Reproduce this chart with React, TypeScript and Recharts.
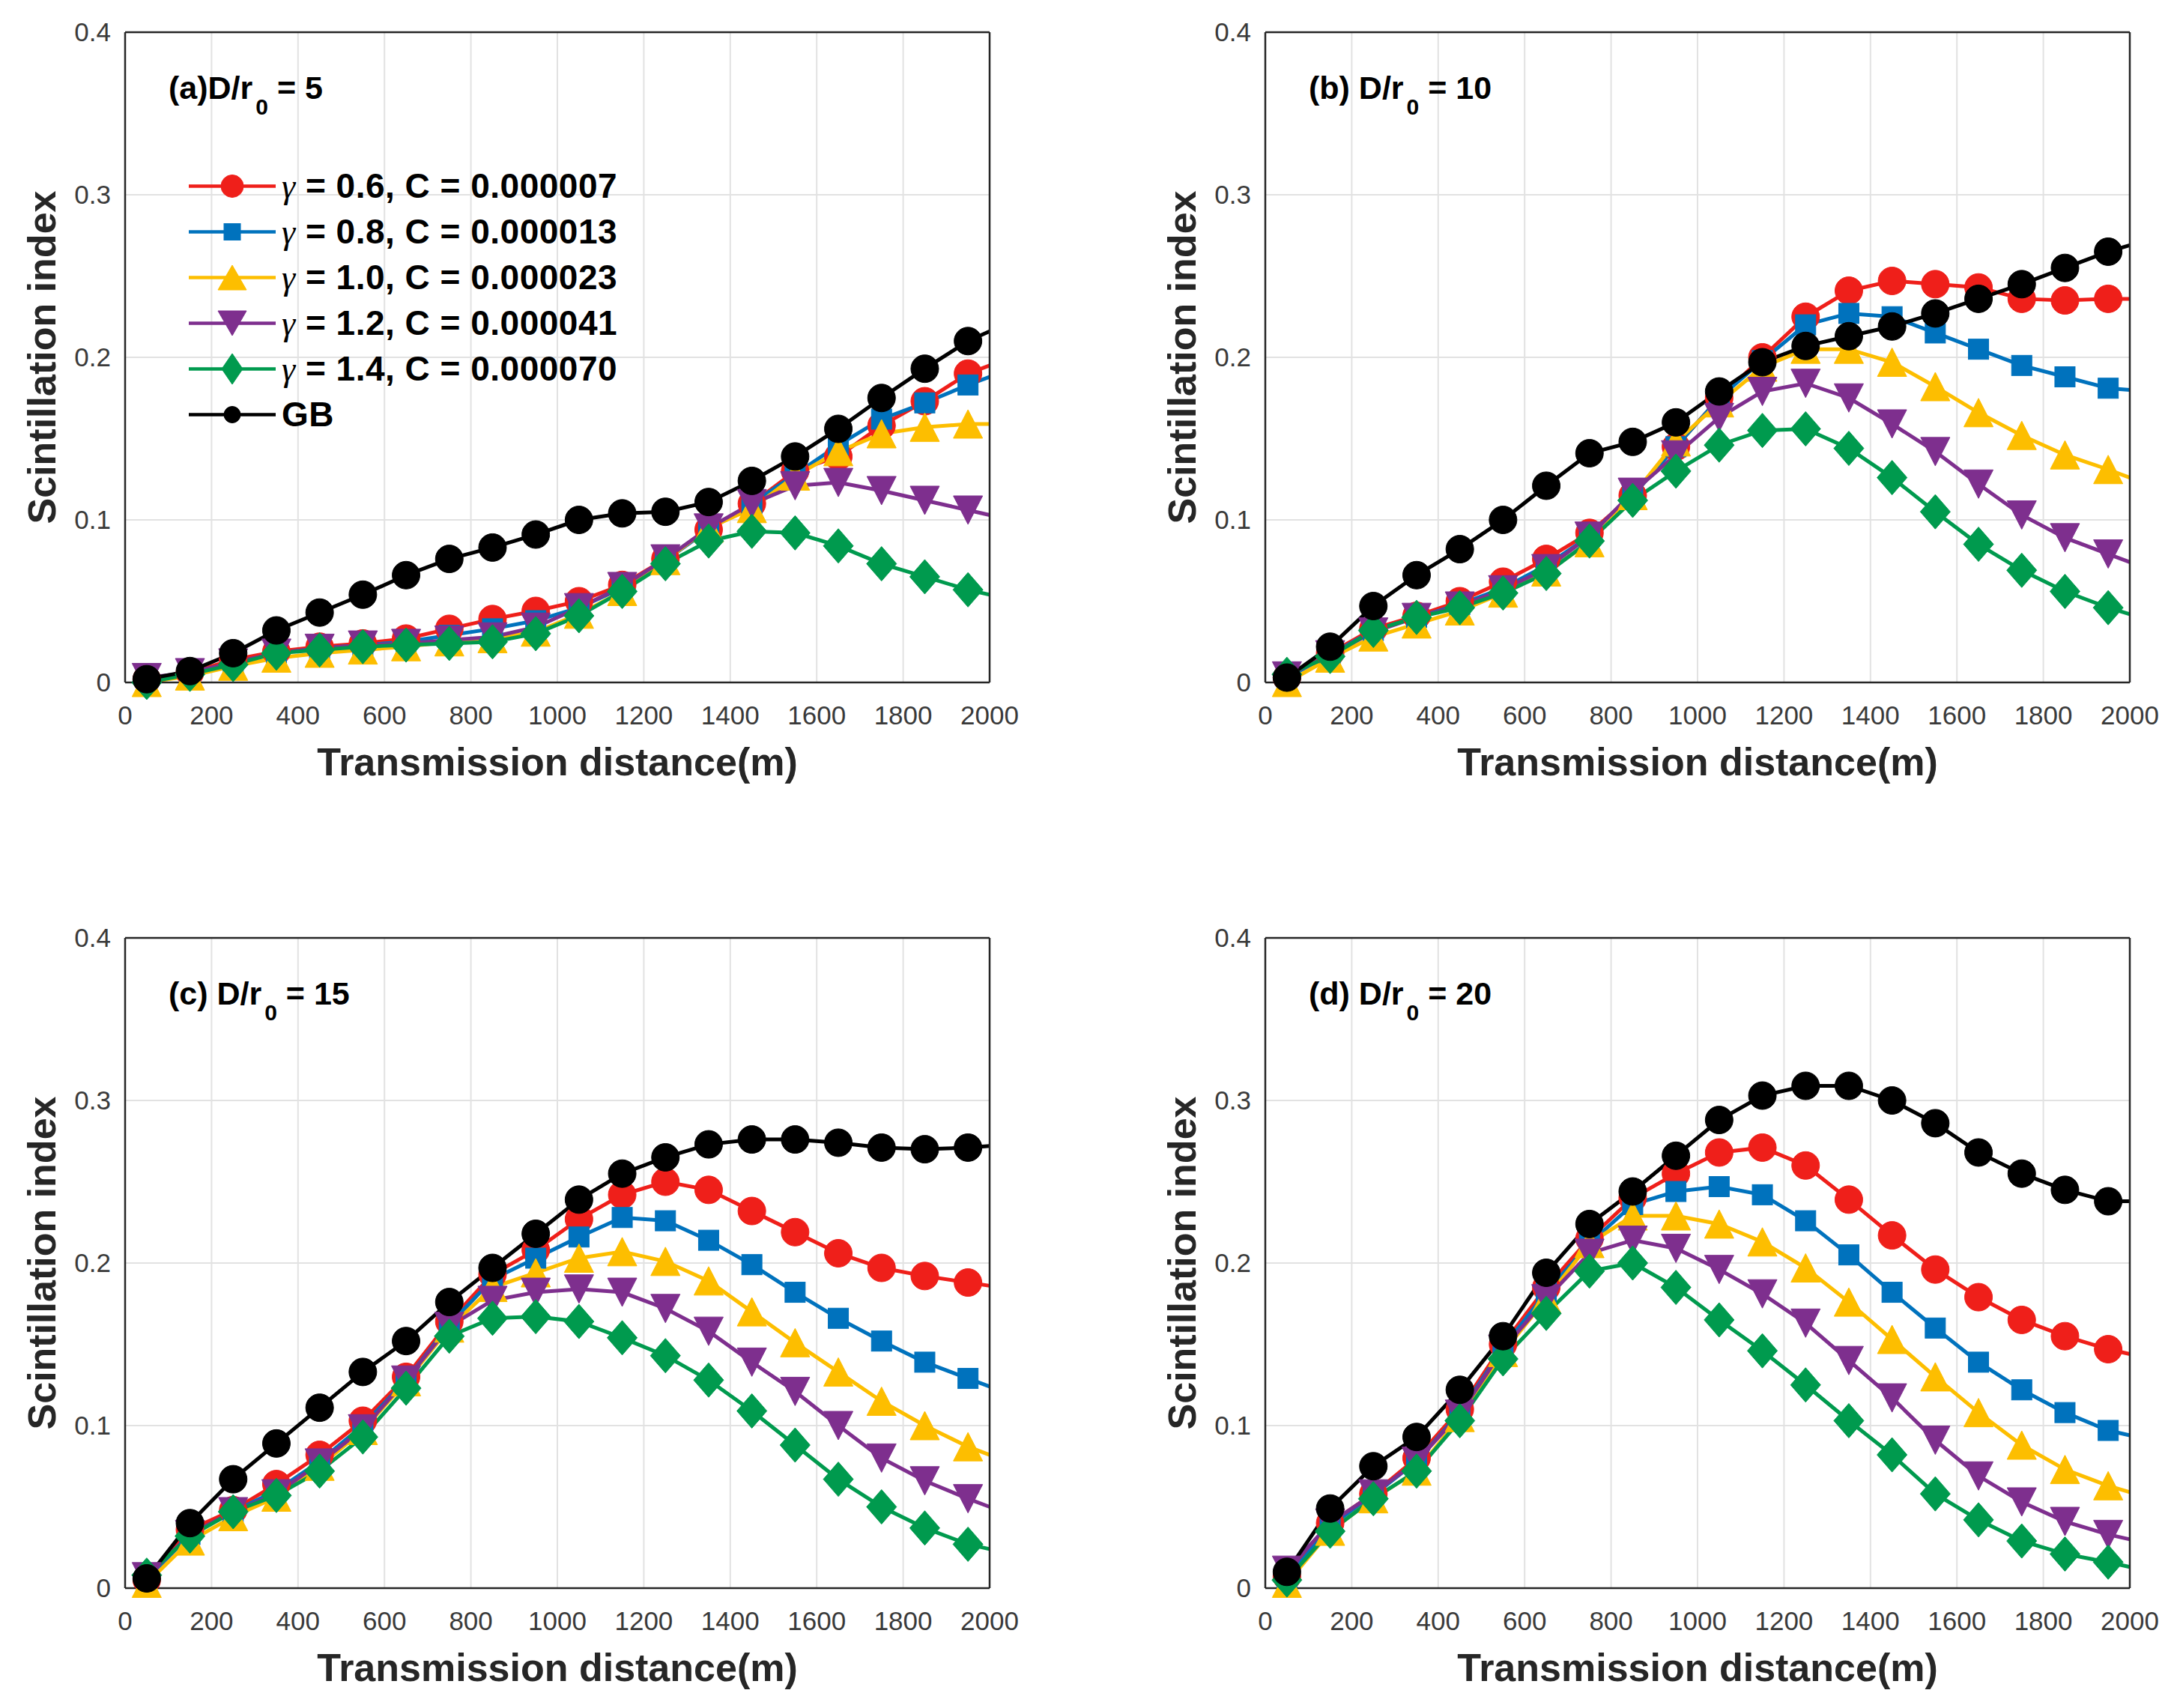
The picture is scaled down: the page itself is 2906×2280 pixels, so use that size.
import { LineChart, Line, XAxis, YAxis, CartesianGrid, Label, Legend, Customized } from 'recharts'

const FONT = '"Liberation Sans", Arial, Helvetica, sans-serif'

// sample distances (m); the last entry is where each curve meets the right frame
const distances = [50, 150, 250, 350, 450, 550, 650, 750, 850, 950, 1050, 1150, 1250, 1350, 1450, 1550, 1650, 1750, 1850, 1950, 2000]
const xTicks = [0, 200, 400, 600, 800, 1000, 1200, 1400, 1600, 1800, 2000]
const yTicks = [0, 0.1, 0.2, 0.3, 0.4]

const seriesKeys = ['g06', 'g08', 'g10', 'g12', 'g14', 'gb']
const seriesColors = ['#EF1F1A', '#0072BD', '#FDBE00', '#7E2F8E', '#009A4E', '#000000']
const seriesShapes = ['circle', 'square', 'up', 'down', 'diamond', 'dot']
const gammaLabels = ['0.6', '0.8', '1.0', '1.2', '1.4']
const cLabels = ['0.000007', '0.000013', '0.000023', '0.000041', '0.000070']

// (a) D/r0 = 5
const a06 = [0.002, 0.006, 0.014, 0.019, 0.022, 0.024, 0.027, 0.033, 0.039, 0.044, 0.05, 0.06, 0.076, 0.094, 0.11, 0.13, 0.139, 0.158, 0.173, 0.19, 0.195]
const a08 = [0.002, 0.006, 0.012, 0.018, 0.021, 0.023, 0.025, 0.029, 0.033, 0.038, 0.046, 0.058, 0.075, 0.094, 0.11, 0.128, 0.146, 0.162, 0.172, 0.183, 0.188]
const a10 = [0.0, 0.004, 0.01, 0.015, 0.018, 0.02, 0.022, 0.025, 0.027, 0.031, 0.042, 0.056, 0.075, 0.095, 0.107, 0.127, 0.142, 0.153, 0.157, 0.159, 0.159]
const a12 = [0.003, 0.006, 0.012, 0.018, 0.021, 0.023, 0.024, 0.026, 0.028, 0.034, 0.046, 0.059, 0.076, 0.095, 0.11, 0.121, 0.123, 0.118, 0.112, 0.106, 0.103]
const a14 = [0.0, 0.005, 0.011, 0.018, 0.02, 0.022, 0.023, 0.024, 0.025, 0.03, 0.041, 0.056, 0.073, 0.087, 0.093, 0.092, 0.084, 0.073, 0.065, 0.057, 0.054]
const aGB = [0.002, 0.007, 0.018, 0.032, 0.043, 0.054, 0.066, 0.076, 0.083, 0.091, 0.1, 0.104, 0.105, 0.111, 0.124, 0.139, 0.156, 0.175, 0.193, 0.21, 0.216]

// (b) D/r0 = 10
const b06 = [0.003, 0.018, 0.033, 0.041, 0.05, 0.062, 0.076, 0.092, 0.115, 0.145, 0.175, 0.2, 0.225, 0.241, 0.247, 0.245, 0.243, 0.236, 0.235, 0.236, 0.236]
const b08 = [0.003, 0.017, 0.032, 0.04, 0.048, 0.058, 0.072, 0.09, 0.115, 0.145, 0.175, 0.198, 0.22, 0.227, 0.225, 0.215, 0.205, 0.195, 0.188, 0.181, 0.18]
const b10 = [0.0, 0.015, 0.028, 0.036, 0.044, 0.055, 0.068, 0.086, 0.115, 0.148, 0.172, 0.194, 0.205, 0.205, 0.197, 0.182, 0.166, 0.152, 0.14, 0.131, 0.126]
const b12 = [0.004, 0.017, 0.031, 0.04, 0.047, 0.057, 0.07, 0.09, 0.117, 0.14, 0.163, 0.179, 0.184, 0.175, 0.159, 0.142, 0.122, 0.103, 0.089, 0.079, 0.074]
const b14 = [0.005, 0.016, 0.032, 0.04, 0.046, 0.055, 0.067, 0.087, 0.112, 0.13, 0.146, 0.155, 0.156, 0.144, 0.126, 0.105, 0.085, 0.069, 0.056, 0.046, 0.042]
const bGB = [0.003, 0.022, 0.047, 0.066, 0.082, 0.1, 0.121, 0.141, 0.148, 0.16, 0.179, 0.197, 0.207, 0.213, 0.219, 0.227, 0.236, 0.245, 0.255, 0.265, 0.269]

// (c) D/r0 = 15
const c06 = [0.005, 0.036, 0.048, 0.064, 0.082, 0.103, 0.13, 0.164, 0.193, 0.208, 0.227, 0.242, 0.25, 0.245, 0.232, 0.219, 0.206, 0.197, 0.192, 0.188, 0.186]
const c08 = [0.005, 0.033, 0.047, 0.06, 0.078, 0.1, 0.128, 0.162, 0.19, 0.203, 0.216, 0.228, 0.226, 0.214, 0.199, 0.182, 0.166, 0.152, 0.139, 0.129, 0.124]
const c10 = [0.003, 0.029, 0.044, 0.056, 0.075, 0.097, 0.127, 0.16, 0.185, 0.194, 0.203, 0.207, 0.201, 0.189, 0.17, 0.151, 0.133, 0.115, 0.1, 0.087, 0.082]
const c12 = [0.007, 0.033, 0.047, 0.058, 0.077, 0.098, 0.128, 0.161, 0.177, 0.182, 0.184, 0.182, 0.172, 0.158, 0.139, 0.121, 0.1, 0.08, 0.066, 0.055, 0.05]
const c14 = [0.008, 0.032, 0.047, 0.057, 0.072, 0.093, 0.123, 0.155, 0.166, 0.167, 0.164, 0.154, 0.143, 0.128, 0.109, 0.088, 0.067, 0.05, 0.037, 0.027, 0.024]
const cGB = [0.006, 0.04, 0.067, 0.089, 0.111, 0.133, 0.152, 0.176, 0.197, 0.218, 0.239, 0.255, 0.265, 0.273, 0.276, 0.276, 0.274, 0.271, 0.27, 0.271, 0.272]

// (d) D/r0 = 20
const d06 = [0.007, 0.04, 0.058, 0.08, 0.11, 0.15, 0.185, 0.215, 0.24, 0.255, 0.268, 0.271, 0.26, 0.239, 0.217, 0.196, 0.179, 0.165, 0.155, 0.147, 0.144]
const d08 = [0.006, 0.038, 0.057, 0.078, 0.108, 0.148, 0.182, 0.212, 0.236, 0.244, 0.247, 0.242, 0.226, 0.205, 0.182, 0.16, 0.139, 0.122, 0.108, 0.097, 0.094]
const d10 = [0.003, 0.035, 0.055, 0.072, 0.105, 0.145, 0.178, 0.212, 0.229, 0.229, 0.224, 0.213, 0.197, 0.176, 0.153, 0.13, 0.108, 0.088, 0.073, 0.063, 0.059]
const d12 = [0.011, 0.04, 0.058, 0.078, 0.107, 0.147, 0.178, 0.206, 0.214, 0.209, 0.196, 0.181, 0.163, 0.14, 0.117, 0.091, 0.069, 0.053, 0.041, 0.033, 0.03]
const d14 = [0.005, 0.035, 0.055, 0.072, 0.103, 0.141, 0.169, 0.195, 0.2, 0.185, 0.165, 0.146, 0.125, 0.103, 0.082, 0.058, 0.042, 0.029, 0.021, 0.016, 0.013]
const dGB = [0.01, 0.049, 0.075, 0.093, 0.122, 0.155, 0.194, 0.224, 0.244, 0.266, 0.288, 0.303, 0.309, 0.309, 0.3, 0.286, 0.268, 0.255, 0.245, 0.238, 0.238]

function buildRows(cols: number[][]) {
  return distances.map((x, i) => {
    const row: Record<string, number> = { x }
    seriesKeys.forEach((k, j) => {
      row[k] = cols[j][i]
    })
    return row
  })
}

const CHART_W = 1384
const CHART_H = 1071
const MARGIN = { top: 43, right: 63, bottom: 20, left: 0 }
const AXIS_COLOR = '#262626'
const axisLine = { stroke: AXIS_COLOR, strokeWidth: 2.5 }
const tickStyle = { fontFamily: FONT, fontSize: 35, fill: '#3a3a3a' }
const titleStyle = { fontFamily: FONT, fontSize: 52, fontWeight: 700, fill: AXIS_COLOR }

type Sizes = { r: number; gb: number; sq: number; tw: number; th: number; dw: number; dh: number }
const PLOT_SIZES: Sizes = { r: 18.5, gb: 18.5, sq: 13.5, tw: 19.5, th: 19, dw: 20, dh: 23 }
const LEGEND_SIZES: Sizes = { r: 15, gb: 11, sq: 11, tw: 19, th: 16.5, dw: 14, dh: 20.5 }

function Marker({ cx, cy, shape, color, s }: { cx: number; cy: number; shape: string; color: string; s: Sizes }) {
  const edge = { fill: color, stroke: color, strokeWidth: 1 }
  switch (shape) {
    case 'square':
      return <rect x={cx - s.sq} y={cy - s.sq} width={s.sq * 2} height={s.sq * 2} {...edge} />
    case 'up':
      return <polygon points={`${cx},${cy - s.th} ${cx + s.tw},${cy + s.th} ${cx - s.tw},${cy + s.th}`} {...edge} />
    case 'down':
      return <polygon points={`${cx - s.tw},${cy - s.th} ${cx + s.tw},${cy - s.th} ${cx},${cy + s.th}`} {...edge} />
    case 'diamond':
      return <polygon points={`${cx},${cy - s.dh} ${cx + s.dw},${cy} ${cx},${cy + s.dh} ${cx - s.dw},${cy}`} {...edge} />
    case 'dot':
      return <circle cx={cx} cy={cy} r={s.gb} {...edge} />
    default:
      return <circle cx={cx} cy={cy} r={s.r} {...edge} />
  }
}

function renderDot(p: any, j: number) {
  const key = `${seriesKeys[j]}-${p.index}`
  if (p.cx == null || p.cy == null || p.payload?.x > 1990) return <g key={key} />
  return (
    <g key={key}>
      <Marker cx={p.cx} cy={p.cy} shape={seriesShapes[j]} color={seriesColors[j]} s={PLOT_SIZES} />
    </g>
  )
}

function LegendBox() {
  return (
    <div style={{ fontFamily: FONT, fontWeight: 700, fontSize: 46, color: '#000', lineHeight: '61px' }}>
      {seriesKeys.map((k, j) => (
        <div key={k} style={{ display: 'flex', alignItems: 'center', height: 61 }}>
          <svg width={116} height={61} style={{ display: 'block' }}>
            <line x1={0} x2={116} y1={30.5} y2={30.5} stroke={seriesColors[j]} strokeWidth={4.5} />
            <Marker cx={58} cy={30.5} shape={seriesShapes[j]} color={seriesColors[j]} s={LEGEND_SIZES} />
          </svg>
          <span style={{ marginLeft: 8, whiteSpace: 'nowrap', letterSpacing: 0.5 }}>
            {j < 5 ? (
              <>
                <span style={{ fontFamily: '"Liberation Serif", serif', fontStyle: 'italic', fontWeight: 400 }}>γ</span>
                {` = ${gammaLabels[j]}, C = ${cLabels[j]}`}
              </>
            ) : (
              'GB'
            )}
          </span>
        </div>
      ))}
    </div>
  )
}

function PanelTag({ tag, ratio }: { tag: string; ratio: string }) {
  return (
    <text x={225} y={132} fontFamily={FONT} fontWeight={700} fontSize={43} fill="#000">
      {`${tag}D/r`}
      <tspan dx={4} dy={21} fontSize={30}>0</tspan>
      <tspan dy={-21} fontSize={43}>{` = ${ratio}`}</tspan>
    </text>
  )
}

function Panel({ cols, tag, ratio, left, top, legend }: { cols: number[][]; tag: string; ratio: string; left: number; top: number; legend?: boolean }) {
  const rows = buildRows(cols)
  return (
    <div style={{ position: 'absolute', left, top }}>
      <LineChart width={CHART_W} height={CHART_H} data={rows} margin={MARGIN}>
        <CartesianGrid stroke="#e2e2e2" strokeWidth={2} />
        <XAxis
          dataKey="x"
          type="number"
          domain={[0, 2000]}
          ticks={xTicks}
          interval={0}
          height={140}
          tickLine={false}
          tickSize={0}
          tickMargin={31}
          axisLine={axisLine}
          tick={tickStyle}
        >
          <Label value="Transmission distance(m)" position="insideTop" offset={87} style={titleStyle} />
        </XAxis>
        <XAxis xAxisId="bm" orientation="bottom" mirror type="number" domain={[0, 2000]} allowDataOverflow ticks={xTicks} interval={0} tick={false} tickSize={10} tickLine={axisLine} axisLine={false} />
        <XAxis xAxisId="top" orientation="top" mirror type="number" domain={[0, 2000]} allowDataOverflow ticks={xTicks} interval={0} tick={false} tickSize={10} tickLine={axisLine} axisLine={axisLine} />
        <YAxis
          type="number"
          domain={[0, 0.4]}
          ticks={yTicks}
          interval={0}
          width={167}
          tickLine={false}
          tickSize={0}
          tickMargin={19}
          axisLine={axisLine}
          tick={tickStyle}
        >
          <Label value="Scintillation index" position="insideLeft" angle={-90} offset={56} style={{ ...titleStyle, textAnchor: 'middle' }} />
        </YAxis>
        <YAxis yAxisId="lm" orientation="left" mirror type="number" domain={[0, 0.4]} allowDataOverflow ticks={yTicks} interval={0} tick={false} tickSize={10} tickLine={axisLine} axisLine={false} />
        <YAxis yAxisId="right" orientation="right" mirror type="number" domain={[0, 0.4]} allowDataOverflow ticks={yTicks} interval={0} tick={false} tickSize={10} tickLine={axisLine} axisLine={axisLine} />
        {seriesKeys.map((k, j) => (
          <Line
            key={k}
            type="linear"
            dataKey={k}
            stroke={seriesColors[j]}
            strokeWidth={5}
            dot={(p: any) => renderDot(p, j)}
            activeDot={false}
            legendType="none"
            isAnimationActive={false}
          />
        ))}
        <Customized component={<PanelTag tag={tag} ratio={ratio} />} />
        {legend && (
          <Legend
            layout="horizontal"
            verticalAlign="middle"
            align="center"
            wrapperStyle={{ left: 252, top: 218, width: 'auto', height: 'auto' }}
            content={() => <LegendBox />}
          />
        )}
      </LineChart>
    </div>
  )
}

export default function App() {
  return (
    <div style={{ position: 'absolute', left: 0, top: 0, width: 2906, height: 2280, background: '#fff', overflow: 'hidden', fontFamily: FONT }}>
      <Panel cols={[a06, a08, a10, a12, a14, aGB]} tag="(a)" ratio="5" left={0} top={0} legend />
      <Panel cols={[b06, b08, b10, b12, b14, bGB]} tag="(b) " ratio="10" left={1522} top={0} />
      <Panel cols={[c06, c08, c10, c12, c14, cGB]} tag="(c) " ratio="15" left={0} top={1209} />
      <Panel cols={[d06, d08, d10, d12, d14, dGB]} tag="(d) " ratio="20" left={1522} top={1209} />
    </div>
  )
}
